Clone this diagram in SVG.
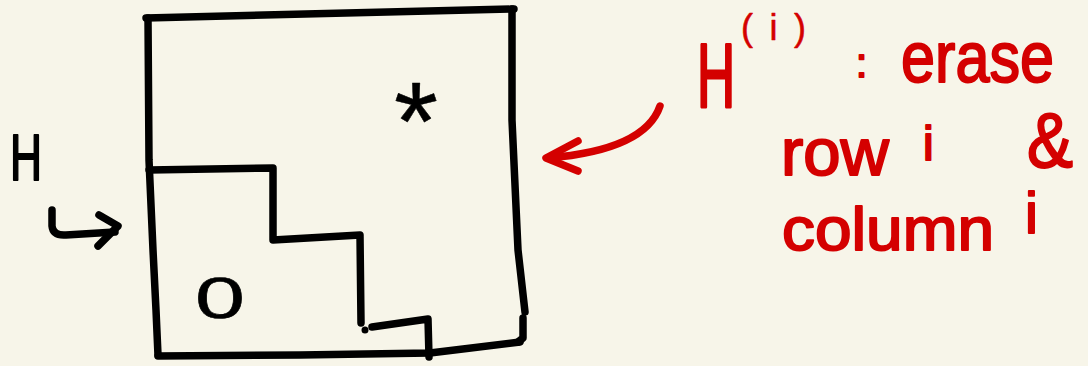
<svg xmlns="http://www.w3.org/2000/svg" width="1088" height="366" viewBox="0 0 1088 366">
<style>
.ink{fill:none;stroke:#000;stroke-width:7.5;stroke-linecap:round;stroke-linejoin:round}
.red{fill:none;stroke:#d40000;stroke-width:7.5;stroke-linecap:round;stroke-linejoin:round}
.tb{font-family:"Liberation Sans",Arial,sans-serif;fill:#000;stroke:#000;stroke-width:2;stroke-linejoin:round}
.tr{font-family:"Liberation Sans",Arial,sans-serif;fill:#d40000;stroke:#d40000;stroke-width:2;stroke-linejoin:round}
.thin{stroke-width:0.5}
</style>
<rect width="1088" height="366" fill="#f7f5e9"/>
<g id="matrix">
<path class="ink" d="M146,18 L514,9"/>
<path class="ink" d="M148,18 L149,160 L153,250 L156,310 L158,355"/>
<path class="ink" d="M158,356 L300,355 L430,353 L520,342"/>
<path class="ink" d="M512,9 L512,120 L518,250 L525,312"/>
<path class="ink" d="M523,318 L523,338 L518,342"/>
<path class="ink" d="M149,170 L273,168 L273,240 L360,235 L361,323"/>
<circle cx="365" cy="330" r="3.5" fill="#000"/>
<path class="ink" d="M372,327 L428,319 L429,357"/>
<text class="tb thin" x="195" y="318" font-size="58" textLength="50" lengthAdjust="spacingAndGlyphs">0</text>
<text class="tb thin" x="394" y="160" font-size="112" textLength="44" lengthAdjust="spacingAndGlyphs">*</text>
</g>
<g id="label-H">
<text class="tb" x="10" y="180" font-size="64" textLength="32" lengthAdjust="spacingAndGlyphs">H</text>
</g>
<g id="label-Hi">
<text class="tr" transform="translate(697,107) scale(0.88,1.5)" x="0" y="0" font-size="60" stroke-width="1.4">H</text>
<text class="tr thin" x="741" y="40" font-size="36" textLength="65" lengthAdjust="spacing">(i)</text>
<text class="tr" x="856" y="77" font-size="40">:</text>
<text class="tr" x="901" y="82" font-size="72" textLength="153" lengthAdjust="spacingAndGlyphs">erase</text>
<text class="tr" x="781" y="175" font-size="66" textLength="108" lengthAdjust="spacingAndGlyphs">row</text>
<text class="tr" x="923" y="160" font-size="48">i</text>
<text class="tr" x="1027" y="167" font-size="78" textLength="46" lengthAdjust="spacingAndGlyphs">&amp;</text>
<text class="tr" x="782" y="250" font-size="62" textLength="212" lengthAdjust="spacingAndGlyphs">column</text>
<text class="tr" x="1025" y="233" font-size="58">i</text>
</g>
<g id="connectors">
<path class="ink" d="M52,210 L52,226 Q53,236 66,235 L115,232"/>
<path class="ink" d="M99,215 L118,226 L98,246"/>
<path class="red" d="M660,106 Q645,150 548,158"/>
<path class="red" d="M578,141 L546,158 L578,171"/>
</g>
</svg>
